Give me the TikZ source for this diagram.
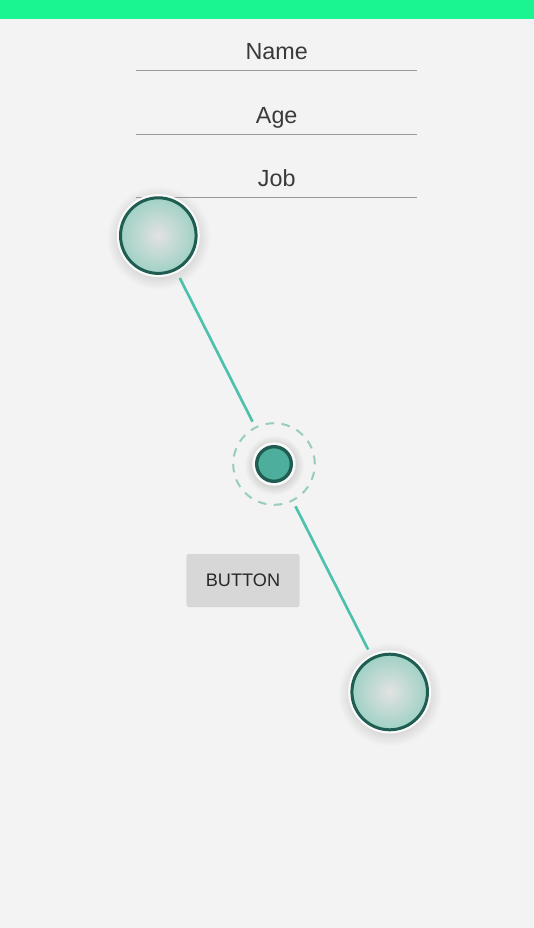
\documentclass[tikz,border=0pt]{standalone}
\usepackage{fontspec}
\setmainfont{Liberation Sans}
\usetikzlibrary{shadows}
\definecolor{bgcol}{RGB}{243,243,243}
\definecolor{barcol}{RGB}{26,245,146}
\definecolor{textcol}{RGB}{58,58,58}
\definecolor{linecol}{RGB}{154,154,154}
\definecolor{ringdark}{RGB}{31,92,81}
\definecolor{ringwhite}{RGB}{250,250,250}
\definecolor{knobin}{RGB}{226,226,226}
\definecolor{knobout}{RGB}{160,209,197}
\definecolor{pivotfill}{RGB}{78,174,158}
\definecolor{linkcol}{RGB}{77,193,172}
\definecolor{dashcol}{RGB}{152,204,190}
\definecolor{btnfill}{RGB}{214,215,214}
\definecolor{btntext}{RGB}{40,40,40}
\definecolor{halocol}{RGB}{214,214,214}
\pgfdeclareradialshading{halo}{\pgfpoint{0bp}{0bp}}{color(0bp)=(halocol); color(18bp)=(halocol); color(25bp)=(bgcol); color(50bp)=(bgcol)}

\tikzset{
  field/.style={inner sep=0pt, minimum width=210.75pt, text depth=8.1pt, anchor=base, text=textcol, font=\fontsize{17.5}{21}\selectfont},
  underline/.style={draw=linecol, line width=1.1pt},
  knob/.style={circle, inner sep=0pt, outer sep=0pt, minimum size=56.7pt, draw=ringdark, line width=2.25pt, inner color=knobin, outer color=knobout, preaction={draw=ringwhite, line width=5.55pt}},
  pivot/.style={circle, inner sep=0pt, outer sep=0pt, minimum size=26pt, draw=ringdark, fill=pivotfill, line width=2.5pt, preaction={draw=ringwhite, line width=6.5pt}},
  dashring/.style={circle, inner sep=0pt, outer sep=0pt, minimum size=61.2pt, draw=dashcol, line width=1.5pt, dash pattern=on 6.4pt off 5.6pt},
  link/.style={draw=linkcol, line width=2pt},
  button/.style={rectangle, fill=btnfill, minimum width=84.5pt, minimum height=39pt, rounded corners=1.5pt, text=btntext, font=\fontsize{13.6}{16}\selectfont, drop shadow={shadow xshift=0pt, shadow yshift=-0.8pt, fill=black, opacity=0.12}}
}

\begin{document}
\begin{tikzpicture}[x=0.75pt, y=-0.75pt]
\useasboundingbox (0,0) rectangle (534,928);
\fill[bgcol] (0,0) rectangle (534,928);
\fill[barcol] (0,0) rectangle (534,19);

% shadows
\shade[shading=halo] (158.3,237.6) circle (39pt);
\shade[shading=halo] (389.7,694) circle (39pt);
\shade[shading=halo] (274,465) circle (22.5pt);

% text fields
\node[field] (name) at (276.7,59.5) {Name};
\node[field] (age) at (276.7,123.2) {Age};
\node[field] (job) at (276.7,186.5) {Job};
\draw[underline] (name.south west) -- (name.south east);
\draw[underline] (age.south west) -- (age.south east);
\draw[underline] (job.south west) -- (job.south east);

% handles
\node[knob] (top) at (158.3,235.6) {};
\node[knob] (bottom) at (389.7,692) {};
\node[dashring] (ring) at (274,464) {};
\node[pivot] (mid) at (274,464) {};

\path[link] (top) edge[shorten <=7.3pt, shorten >=5pt] (ring);
\path[link] (ring) edge[shorten <=5pt, shorten >=7.3pt] (bottom);

\node[button] (btn) at (243,580) {BUTTON};
\end{tikzpicture}
\end{document}
